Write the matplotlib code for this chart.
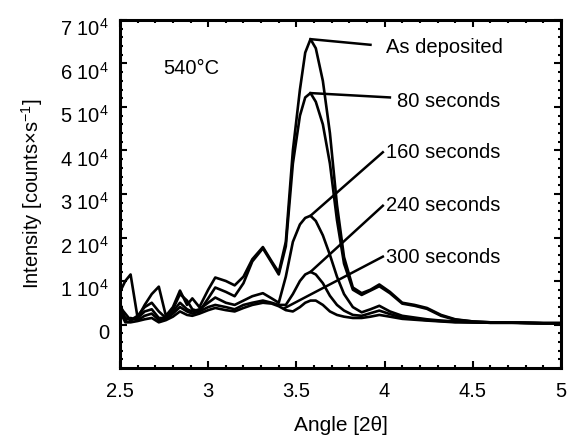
import matplotlib
matplotlib.use("Agg")
import matplotlib.pyplot as plt
from matplotlib.ticker import MultipleLocator
from matplotlib.transforms import ScaledTranslation
import numpy as np

plt.rcParams['font.family'] = ['Liberation Sans', 'DejaVu Sans']
plt.rcParams['mathtext.default'] = 'regular'

# ---- data (intensity in units of 1e4 counts/s) ----
angle = [2.50, 2.53, 2.56, 2.60, 2.64, 2.68, 2.72, 2.76, 2.80, 2.84, 2.88, 2.91,
         2.95, 3.00, 3.04, 3.10, 3.15, 3.20, 3.25, 3.31, 3.36, 3.40, 3.44, 3.48,
         3.52, 3.55, 3.58, 3.61, 3.65, 3.69, 3.73, 3.77, 3.82, 3.87, 3.92, 3.97,
         4.03, 4.10, 4.17, 4.24, 4.32, 4.40, 4.50, 4.60, 4.75, 4.90, 5.00]

as_deposited = [0.75, 1.00, 1.15, 0.15, 0.45, 0.70, 0.87, 0.20, 0.40, 0.78, 0.45, 0.60,
                0.40, 0.80, 1.08, 1.00, 0.90, 1.10, 1.50, 1.78, 1.45, 1.20, 1.90, 4.00,
                5.40, 6.25, 6.56, 6.35, 5.60, 4.40, 2.75, 1.55, 0.85, 0.72, 0.80, 0.92,
                0.75, 0.50, 0.45, 0.38, 0.22, 0.12, 0.07, 0.05, 0.04, 0.03, 0.03]
sec80 = [0.40, 0.25, 0.10, 0.20, 0.40, 0.50, 0.30, 0.15, 0.35, 0.70, 0.55, 0.35,
         0.30, 0.60, 0.85, 0.75, 0.65, 0.95, 1.45, 1.75, 1.42, 1.15, 1.80, 3.70,
         4.80, 5.22, 5.32, 5.12, 4.60, 3.70, 2.40, 1.40, 0.80, 0.68, 0.78, 0.88,
         0.72, 0.48, 0.43, 0.36, 0.20, 0.11, 0.07, 0.05, 0.04, 0.03, 0.03]
sec160 = [0.35, 0.15, 0.10, 0.15, 0.30, 0.35, 0.15, 0.15, 0.30, 0.50, 0.35, 0.30,
          0.35, 0.50, 0.62, 0.50, 0.45, 0.55, 0.65, 0.72, 0.60, 0.50, 1.10, 1.90,
          2.30, 2.45, 2.50, 2.38, 2.05, 1.60, 1.10, 0.70, 0.40, 0.28, 0.35, 0.43,
          0.30, 0.20, 0.16, 0.12, 0.09, 0.07, 0.05, 0.04, 0.04, 0.03, 0.03]
sec240 = [0.50, 0.10, 0.15, 0.10, 0.20, 0.25, 0.10, 0.12, 0.25, 0.40, 0.30, 0.25,
          0.30, 0.40, 0.45, 0.40, 0.35, 0.45, 0.50, 0.55, 0.50, 0.45, 0.45, 0.70,
          1.00, 1.15, 1.21, 1.15, 0.95, 0.66, 0.45, 0.32, 0.22, 0.20, 0.26, 0.32,
          0.24, 0.16, 0.13, 0.10, 0.08, 0.06, 0.05, 0.04, 0.04, 0.03, 0.03]
sec300 = [0.30, 0.05, 0.05, 0.08, 0.12, 0.15, 0.05, 0.10, 0.18, 0.30, 0.22, 0.20,
          0.25, 0.33, 0.38, 0.33, 0.30, 0.38, 0.45, 0.50, 0.48, 0.42, 0.33, 0.30,
          0.40, 0.50, 0.55, 0.55, 0.45, 0.30, 0.22, 0.18, 0.15, 0.15, 0.18, 0.22,
          0.18, 0.13, 0.11, 0.09, 0.07, 0.05, 0.05, 0.04, 0.04, 0.03, 0.03]

series = [as_deposited, sec80, sec160, sec240, sec300]
labels = ["As deposited", "80 seconds", "160 seconds", "240 seconds", "300 seconds"]

# leader lines: start (on curve) and end, label anchor (units 1e4)
leader_start_x = [3.58, 3.58, 3.58, 3.58, 3.43]
leader_start_y = [6.56, 5.32, 2.50, 1.21, 0.37]
leader_end_x = [3.92, 4.03, 3.99, 3.99, 3.99]
leader_end_y = [6.43, 5.22, 3.96, 2.73, 1.56]
label_x = [4.01, 4.07, 4.01, 4.01, 4.01]
label_y = [6.36, 5.13, 3.96, 2.73, 1.53]

yticks = [0, 1, 2, 3, 4, 5, 6, 7]
ytick_labels = ["0", "1 10$^{4}$", "2 10$^{4}$", "3 10$^{4}$", "4 10$^{4}$",
                "5 10$^{4}$", "6 10$^{4}$", "7 10$^{4}$"]
xticks = [2.5, 3, 3.5, 4, 4.5, 5]
xtick_labels = ["2.5", "3", "3.5", "4", "4.5", "5"]

scale = 1e4

fig = plt.figure(figsize=(5.75, 4.41), dpi=100)
ax = fig.add_axes([120 / 575, 73 / 441, 441 / 575, 348 / 441])

x = np.array(angle)
for s in series:
    ax.plot(x, np.array(s) * scale, color='black', lw=1.9, solid_joinstyle='round')

for i in range(len(labels)):
    ax.plot([leader_start_x[i], leader_end_x[i]],
            [leader_start_y[i] * scale, leader_end_y[i] * scale],
            color='black', lw=1.8)
    ax.text(label_x[i], label_y[i] * scale, labels[i], ha='left', va='center',
            fontsize=14.5)

ax.text(2.745, 5.88 * scale, "540°C", ha='left', va='center', fontsize=14.5)

ax.set_xlim(2.5, 5)
ax.set_ylim(-1 * scale, 7 * scale)
ax.set_xticks(xticks)
ax.set_xticklabels(xtick_labels, fontsize=14.5)
ax.set_yticks([v * scale for v in yticks])
ax.set_yticklabels(ytick_labels, fontsize=14.5)
ax.xaxis.set_minor_locator(MultipleLocator(0.1))
ax.yaxis.set_minor_locator(MultipleLocator(0.2 * scale))
ax.tick_params(which='both', direction='in', top=True, right=True, width=1.5)
ax.tick_params(which='major', length=5)
ax.tick_params(which='minor', length=2.5)
ax.tick_params(axis='x', pad=10)
ax.tick_params(axis='y', pad=8)
for sp in ax.spines.values():
    sp.set_linewidth(2.2)

offset = ScaledTranslation(0, -5 / 72, fig.dpi_scale_trans)
for lab in ax.get_yticklabels():
    lab.set_transform(lab.get_transform() + offset)

ax.set_xlabel("Angle [2θ]", fontsize=15, labelpad=11)
ax.set_ylabel("Intensity [counts×s$^{-1}$]", fontsize=14.5, labelpad=11)

fig.savefig("out.png", dpi=100)
